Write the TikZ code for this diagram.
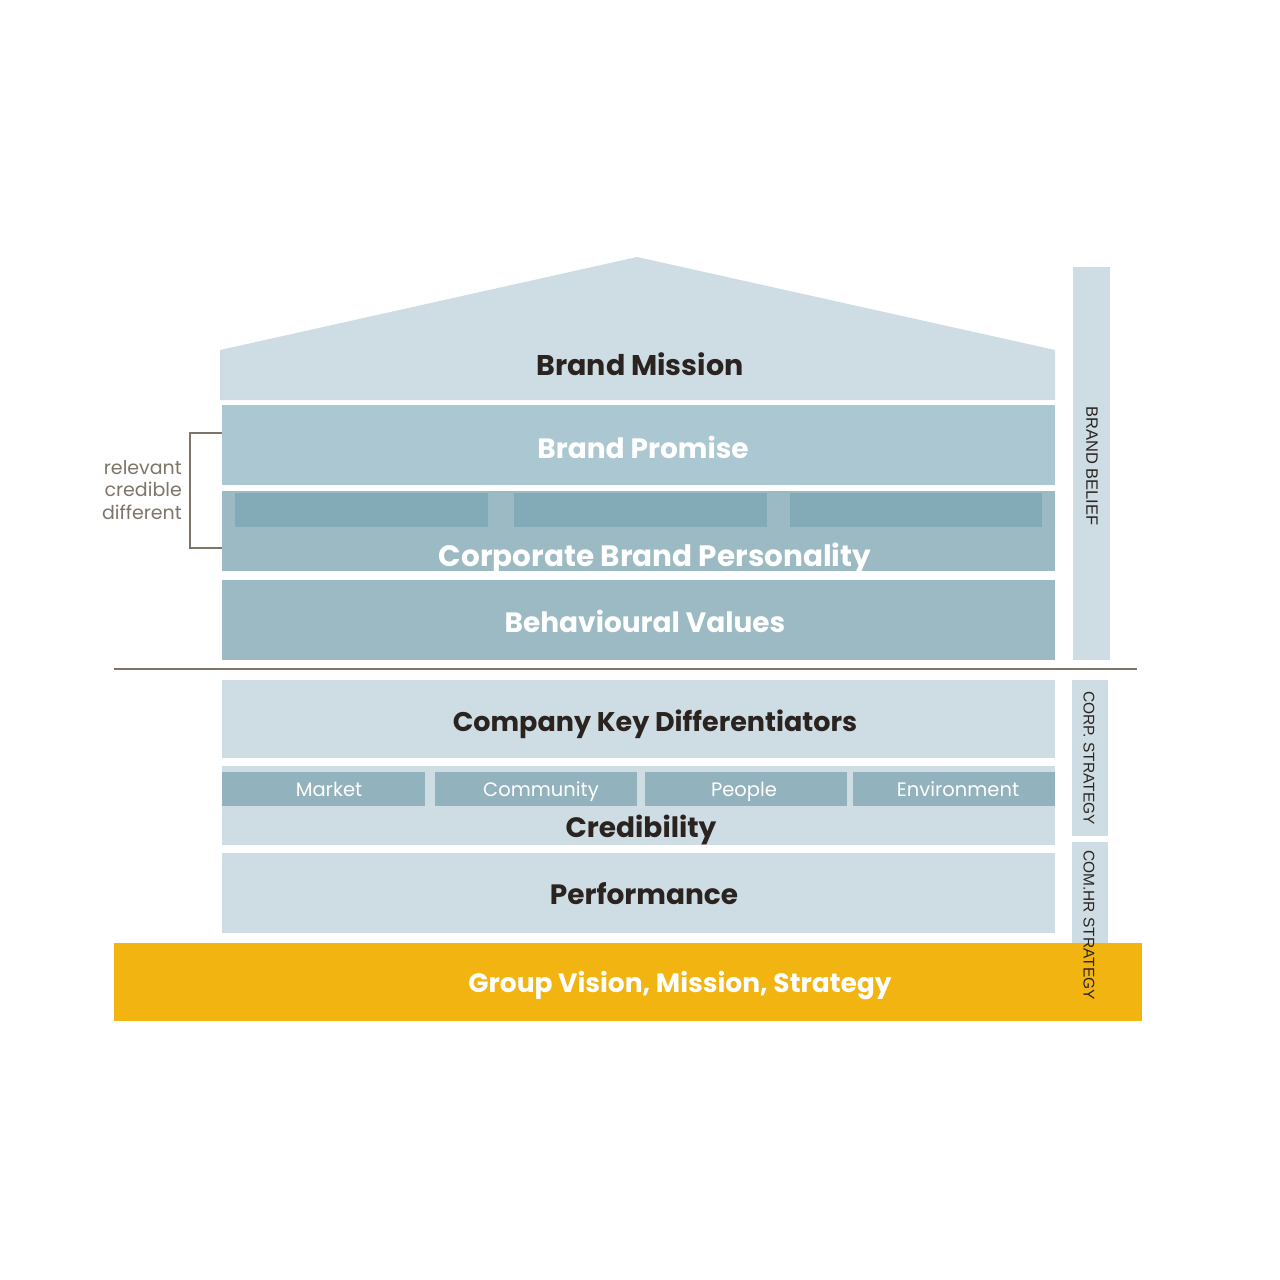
\documentclass[tikz,border=0pt]{standalone}
\usepackage{fontspec}
\setmainfont{Poppins}
\newfontfamily\sidefont{Liberation Sans}
\usepackage{xcolor}
\definecolor{paleblue}{HTML}{CEDDE3}
\definecolor{midblue}{HTML}{AAC7D2}
\definecolor{deepblue}{HTML}{9BBAC4}
\definecolor{tileblue}{HTML}{83AAB7}
\definecolor{pillarblue}{HTML}{92B2BD}
\definecolor{groupgold}{HTML}{F2B411}
\definecolor{rulebrown}{HTML}{7E7569}
\definecolor{inkdark}{HTML}{2A2320}

\begin{document}
\begin{tikzpicture}[x=1pt, y=-1pt,
    heading/.style={font=\bfseries\fontsize{28}{30}\selectfont, inner sep=0pt, anchor=base},
    darkhead/.style={heading, text=inkdark},
    lighthead/.style={heading, text=white},
    pillar/.style={font=\fontsize{19.5}{20}\selectfont, text=white, inner sep=0pt, anchor=base},
    sidelabel/.style={font=\sidefont\fontsize{15.5}{16}\selectfont, text=inkdark, rotate=-90, inner sep=0pt}]
    \useasboundingbox (0,0) rectangle (1280,1280);

    % Roof
    \fill[paleblue] (220,350) -- (637,257) -- (1055,350) -- (1055,400) -- (220,400) -- cycle;
    \node[darkhead, font=\bfseries\fontsize{28.5}{30}\selectfont] (mission) at (640,375) {Brand Mission};

    % Brand promise
    \fill[midblue] (222,405) rectangle (1055,485);
    \node[lighthead] (promise) at (643,458) {Brand Promise};

    % Personality with three tiles
    \fill[deepblue] (222,491) rectangle (1055,571);
    \fill[tileblue] (235,493) rectangle (488,527);
    \fill[tileblue] (514,493) rectangle (767,527);
    \fill[tileblue] (790,493) rectangle (1042,527);
    \node[lighthead, font=\bfseries\fontsize{29.5}{30}\selectfont] (personality) at (655,566) {Corporate Brand Personality};

    % Values
    \fill[deepblue] (222,580) rectangle (1055,660);
    \node[lighthead] (values) at (645,632) {Behavioural Values};

    % Bracket
    \draw[rulebrown, line width=2pt] (222,433) -- (190,433) -- (190,548) -- (222,548);
    \node[align=right, anchor=east, text=rulebrown, font=\fontsize{19}{22.5}\selectfont, inner sep=0pt] (rcd) at (182,490) {relevant\\credible\\different};

    % Brand belief bar
    \fill[paleblue] (1073,267) rectangle (1110,660);
    \node[sidelabel, font=\sidefont\fontsize{16.5}{17}\selectfont] (belief) at (1092,466) {BRAND BELIEF};

    % Divider
    \draw[rulebrown, line width=2pt] (114,669) -- (1137,669);

    % Differentiators
    \fill[paleblue] (222,680) rectangle (1055,758);
    \node[darkhead, font=\bfseries\fontsize{27}{30}\selectfont] (ckd) at (655,731) {Company Key Differentiators};

    % Credibility with four pillars
    \fill[paleblue] (222,766) rectangle (1055,845);
    \fill[pillarblue] (222,772) rectangle (425,806);
    \fill[pillarblue] (435,772) rectangle (637,806);
    \fill[pillarblue] (645,772) rectangle (847,806);
    \fill[pillarblue] (853,772) rectangle (1055,806);
    \node[pillar] (market) at (329,796) {Market};
    \node[pillar] (community) at (541,796) {Community};
    \node[pillar] (people) at (744,796) {People};
    \node[pillar] (environment) at (958,796) {Environment};
    \node[darkhead] (credibility) at (641,837) {Credibility};

    % Performance
    \fill[paleblue] (222,853) rectangle (1055,933);
    \node[darkhead] (performance) at (644,904) {Performance};

    % Strategy bars
    \fill[paleblue] (1072,680) rectangle (1108,836);
    \fill[paleblue] (1072,842) rectangle (1108,943);
    \node[sidelabel] (corp) at (1089,758) {CORP. STRATEGY};

    % Group foundation
    \fill[groupgold] (114,943) rectangle (1142,1021);
    \node[lighthead, font=\bfseries\fontsize{26.5}{30}\selectfont] (group) at (680,992) {Group Vision, Mission, Strategy};
    \node[sidelabel] (comhr) at (1089,925) {COM.HR STRATEGY};
\end{tikzpicture}
\end{document}
